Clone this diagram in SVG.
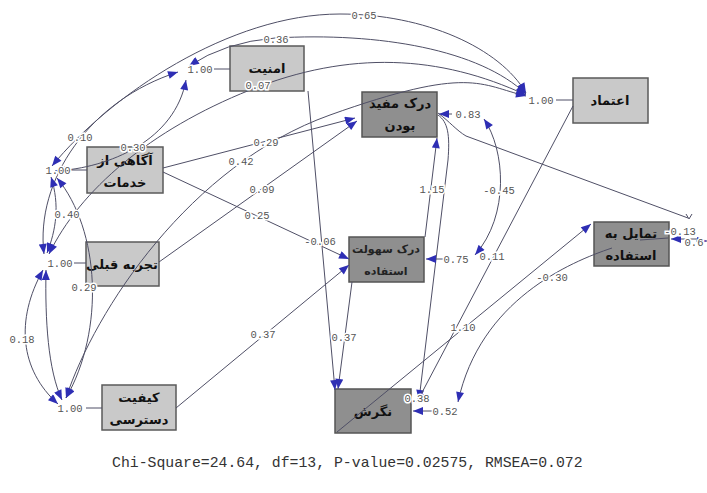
<svg xmlns="http://www.w3.org/2000/svg" width="707" height="493" viewBox="0 0 707 493">
<defs>
<style>
.ln{fill:none;stroke:#4f4f66;stroke-width:1}
.ar{marker-end:url(#ah)}
.cv{marker-start:url(#ah);marker-end:url(#ah)}
.lbl{font-family:"Liberation Mono",monospace;font-size:10.5px;fill:#555;text-anchor:middle;stroke:#fff;stroke-width:3;paint-order:stroke}
.b1{fill:#c9c9c9;stroke:#5a5a5a;stroke-width:1.5}
.b2{fill:#8f8f8f;stroke:#555;stroke-width:1.5}
.nt{font-family:"DejaVu Sans",sans-serif;font-weight:bold;font-size:13px;fill:#111;text-anchor:middle}
.sm{font-size:11px;fill:#222}
</style>
<marker id="ah" viewBox="0 0 10 8" refX="10" refY="4" markerWidth="11" markerHeight="8" orient="auto-start-reverse" markerUnits="userSpaceOnUse"><path d="M0,0 L10,4 L0,8 z" fill="#2e2eb4"/></marker>
</defs>
<rect width="707" height="493" fill="#fff"/>

<g id="n-amniat"><rect class="b1" x="230" y="46" width="74" height="45"/><text class="nt" x="267" y="73">امنیت</text></g>
<g id="n-agahi"><rect class="b1" x="87" y="147" width="76" height="46"/><text class="nt" x="125" y="165" font-size="12">آگاهی از</text><text class="nt" x="125" y="187" font-size="12">خدمات</text></g>
<g id="n-tajrobe"><rect class="b1" x="86" y="242" width="73" height="44"/><text class="nt" x="122" y="269">تجربه قبلی</text></g>
<g id="n-keyfiat"><rect class="b1" x="102" y="385" width="74" height="45"/><text class="nt" x="139" y="402">کیفیت</text><text class="nt" x="139" y="424">دسترسی</text></g>
<g id="n-etemad"><rect class="b1" x="573" y="78" width="75" height="45"/><text class="nt" x="610" y="105">اعتماد</text></g>
<g id="n-mofid"><rect class="b2" x="362" y="92" width="75" height="45"/><text class="nt" x="400" y="108">درک مفید</text><text class="nt" x="400" y="130">بودن</text></g>
<g id="n-sohoolat"><rect class="b2" x="349" y="237" width="75" height="45"/><text class="nt sm" x="386" y="253">درک سهولت</text><text class="nt sm" x="386" y="275">استفاده</text></g>
<g id="n-tamayol"><rect class="b2" x="594" y="222" width="75" height="44"/><text class="nt" x="631" y="238">تمایل به</text><text class="nt" x="631" y="260">استفاده</text></g>
<g id="n-negaresh"><rect class="b2" x="335" y="389" width="76" height="44"/><text class="nt" x="373" y="416">نگرش</text></g>

<g id="connectors">
<path class="ln cv" d="M52,166 C110,95 230,14 340,14 C425,14 500,48 526,93"/>
<path class="ln cv" d="M189,66 Q225,42 275,38 C380,32 480,50 526,94"/>
<path class="ln cv" d="M49,254 C80,190 150,130 250,90 C350,50 440,55 526,95"/>
<path class="ln cv" d="M66,398 C95,310 190,165 330,115 C470,65 480,85 526,96"/>
<path class="ln cv" d="M44,254 C35,180 90,100 178,72"/>
<path class="ln cv" d="M55,171 C110,168 175,140 186,80"/>
<path class="ln cv" d="M51,177 C60,205 56,230 47,253"/>
<path class="ln cv" d="M57,178 C100,230 105,330 66,398"/>
<path class="ln cv" d="M43,270 C15,320 20,370 58,404"/>
<path class="ln cv" d="M46,270 C45,320 48,370 62,400"/>
<path class="ln cv" d="M484,119 C505,150 510,215 475,255"/>
<path class="ln ar" d="M612,248 C570,262 480,300 458,402"/>

<path class="ln ar" d="M163,168 L355,118"/>
<path class="ln ar" d="M159,262 L357,121"/>
<path class="ln ar" d="M163,172 L349,259"/>
<path class="ln ar" d="M308,91 L335,390"/>
<path class="ln ar" d="M176,408 L349,265"/>
<path class="ln ar" d="M352,282 L338,389"/>
<path class="ln ar" d="M425,237 L437,138"/>
<path class="ln ar" d="M438,115 C448,122 450,135 448,160 L419,400"/>
<path class="ln ar" d="M573,106 L417,402"/>
<path class="ln ar" d="M337,432 L591,224"/>
<path class="ln" d="M438,113 C450,122 456,130 466,136 L688,218"/>
<path class="ln" d="M686,214 L689,219 L692,214"/>
<path class="ln" d="M640,240 L668,238" stroke="#3a3ab8"/>

<path class="ln ar" d="M452,114 L439,114"/>
<path class="ln ar" d="M447,259 L426,259"/>
<path class="ln ar" d="M434,411 L413,411"/>
<path class="ln ar" d="M700,239 L671,239"/>
<path class="ln ar" d="M696,241 L707,241"/>

<path class="ln" d="M214,69 L230,69"/>
<path class="ln" d="M70,170 L87,170"/>
<path class="ln" d="M74,263 L86,263"/>
<path class="ln" d="M86,408 L102,408"/>
<path class="ln" d="M556,100 L573,100"/>

<text class="lbl" x="364" y="19">0.65</text>
<text class="lbl" x="276" y="43">0.36</text>
<text class="lbl" x="258" y="89">0.07</text>
<text class="lbl" x="80" y="141">0.10</text>
<text class="lbl" x="133" y="151">0.30</text>
<text class="lbl" x="67" y="218">0.40</text>
<text class="lbl" x="84" y="291">0.29</text>
<text class="lbl" x="22" y="343">0.18</text>
<text class="lbl" x="266" y="146">0.29</text>
<text class="lbl" x="241" y="165">0.42</text>
<text class="lbl" x="262" y="193">0.09</text>
<text class="lbl" x="257" y="219">0.25</text>
<text class="lbl" x="320" y="245">-0.06</text>
<text class="lbl" x="263" y="338">0.37</text>
<text class="lbl" x="344" y="341">0.37</text>
<text class="lbl" x="432" y="193">1.15</text>
<text class="lbl" x="468" y="118">0.83</text>
<text class="lbl" x="499" y="194">-0.45</text>
<text class="lbl" x="456" y="263">0.75</text>
<text class="lbl" x="492" y="260">0.11</text>
<text class="lbl" x="552" y="281">-0.30</text>
<text class="lbl" x="463" y="331">1.10</text>
<text class="lbl" x="417" y="402">0.38</text>
<text class="lbl" x="445" y="415">0.52</text>
<text class="lbl" x="680" y="235">-0.13</text>
<text class="lbl" x="694" y="246">0.6</text>
<text class="lbl" x="200" y="73">1.00</text>
<text class="lbl" x="58" y="174">1.00</text>
<text class="lbl" x="60" y="267">1.00</text>
<text class="lbl" x="70" y="412">1.00</text>
<text class="lbl" x="541" y="104">1.00</text>
</g>

<text x="112" y="467" font-family="Liberation Mono, monospace" font-size="14.8" fill="#333">Chi-Square=24.64, df=13, P-value=0.02575, RMSEA=0.072</text>
</svg>
